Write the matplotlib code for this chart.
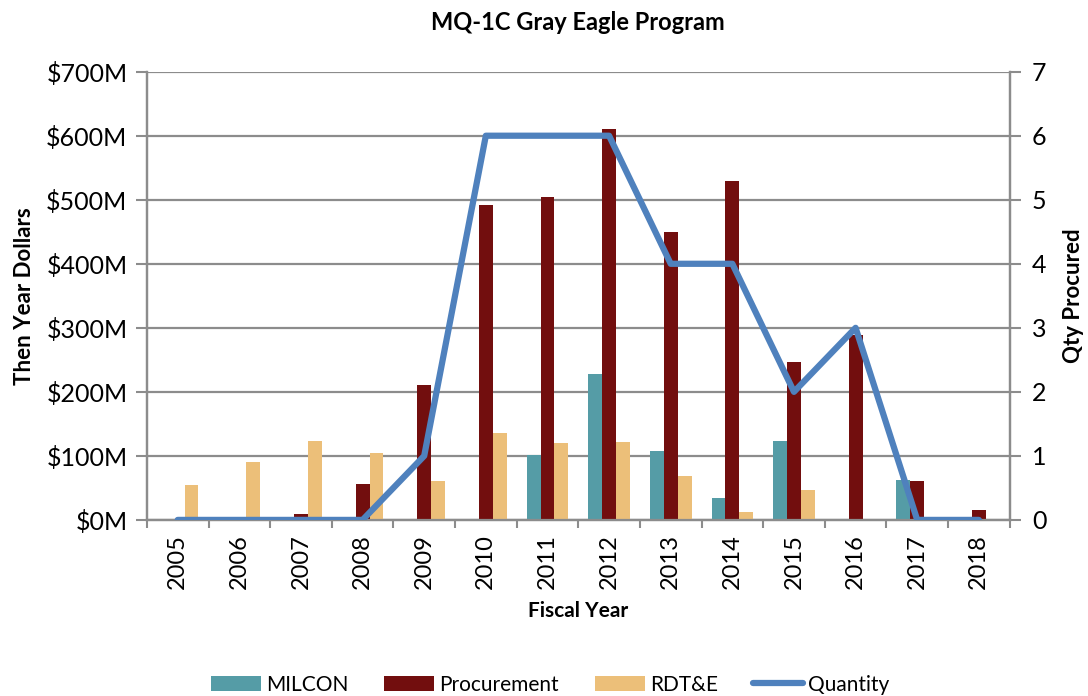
import matplotlib.pyplot as plt
import numpy as np

plt.rcParams['font.family'] = ['Lato', 'DejaVu Sans']

years = ['2005', '2006', '2007', '2008', '2009', '2010', '2011',
         '2012', '2013', '2014', '2015', '2016', '2017', '2018']
milcon = [0, 0, 0, 0, 0, 0, 101, 228, 108, 35, 124, 0, 62, 0]
procurement = [0, 0, 10, 56, 210, 492, 504, 610, 450, 530, 246, 289, 60, 16]
rdte = [54, 90, 124, 104, 61, 136, 120, 122, 68, 12, 46, 0, 0, 0]
quantity = [0, 0, 0, 0, 1, 6, 6, 6, 4, 4, 2, 3, 0, 0]

grid_c = '#8c8c8c'
x = np.arange(len(years))
w = 0.225

fig = plt.figure(figsize=(10.88, 6.96), dpi=100)
ax = fig.add_axes([0.135, 0.253, 0.793, 0.644])

ax.bar(x - w, milcon, w, color='#559ca6', label='MILCON', zorder=3)
ax.bar(x, procurement, w, color='#720e0e', label='Procurement', zorder=3)
ax.bar(x + w, rdte, w, color='#ecbf79', label='RDT&E', zorder=3)

ax.set_ylim(0, 700)
ax.set_xlim(-0.5, len(years) - 0.5)
ax.set_yticks(range(0, 701, 100))
ax.set_yticklabels([f'${v}M' for v in range(0, 701, 100)], fontsize=18)
ax.yaxis.grid(True, color=grid_c, linewidth=1.6, zorder=0)
ax.set_xticks(x)
ax.set_xticklabels(years, rotation=90, fontsize=17)
ax.tick_params(axis='x', length=0, pad=10)
ax.set_xticks(np.arange(-0.5, len(years)), minor=True)
ax.tick_params(axis='x', which='minor', length=6, color=grid_c, width=1.5)
ax.tick_params(axis='y', length=8, color=grid_c, width=1.5, pad=6)
ax.spines['top'].set_visible(False)
for s in ['left', 'bottom', 'right']:
    ax.spines[s].set_color(grid_c)
    ax.spines[s].set_linewidth(1.6)

ax.set_ylabel('Then Year Dollars', fontsize=16, fontweight='bold', labelpad=8)
ax.set_xlabel('Fiscal Year', fontsize=15, fontweight='bold', labelpad=9)
ax.set_title('MQ-1C Gray Eagle Program', fontsize=17, fontweight='bold', pad=30)

ax2 = ax.twinx()
ax2.plot(x, quantity, color='#4f81bd', linewidth=4.5, label='Quantity',
         zorder=4, solid_capstyle='round')
ax2.set_ylim(0, 7)
ax2.set_yticks(range(0, 8))
ax2.tick_params(axis='y', labelsize=18, length=8, color=grid_c, width=1.5, pad=8)
ax2.set_ylabel('Qty Procured', fontsize=16, fontweight='bold', labelpad=12)
ax2.spines['top'].set_visible(False)
for s in ['left', 'bottom', 'right']:
    ax2.spines[s].set_color(grid_c)
    ax2.spines[s].set_linewidth(1.6)

h1, l1 = ax.get_legend_handles_labels()
h2, l2 = ax2.get_legend_handles_labels()
fig.legend(h1 + h2, l1 + l2, loc='center', ncol=4, frameon=False,
           fontsize=15, bbox_to_anchor=(0.506, 0.016), handlelength=2.4,
           handleheight=0.75, columnspacing=1.7, handletextpad=0.25)

fig.savefig('out.png', dpi=100)
